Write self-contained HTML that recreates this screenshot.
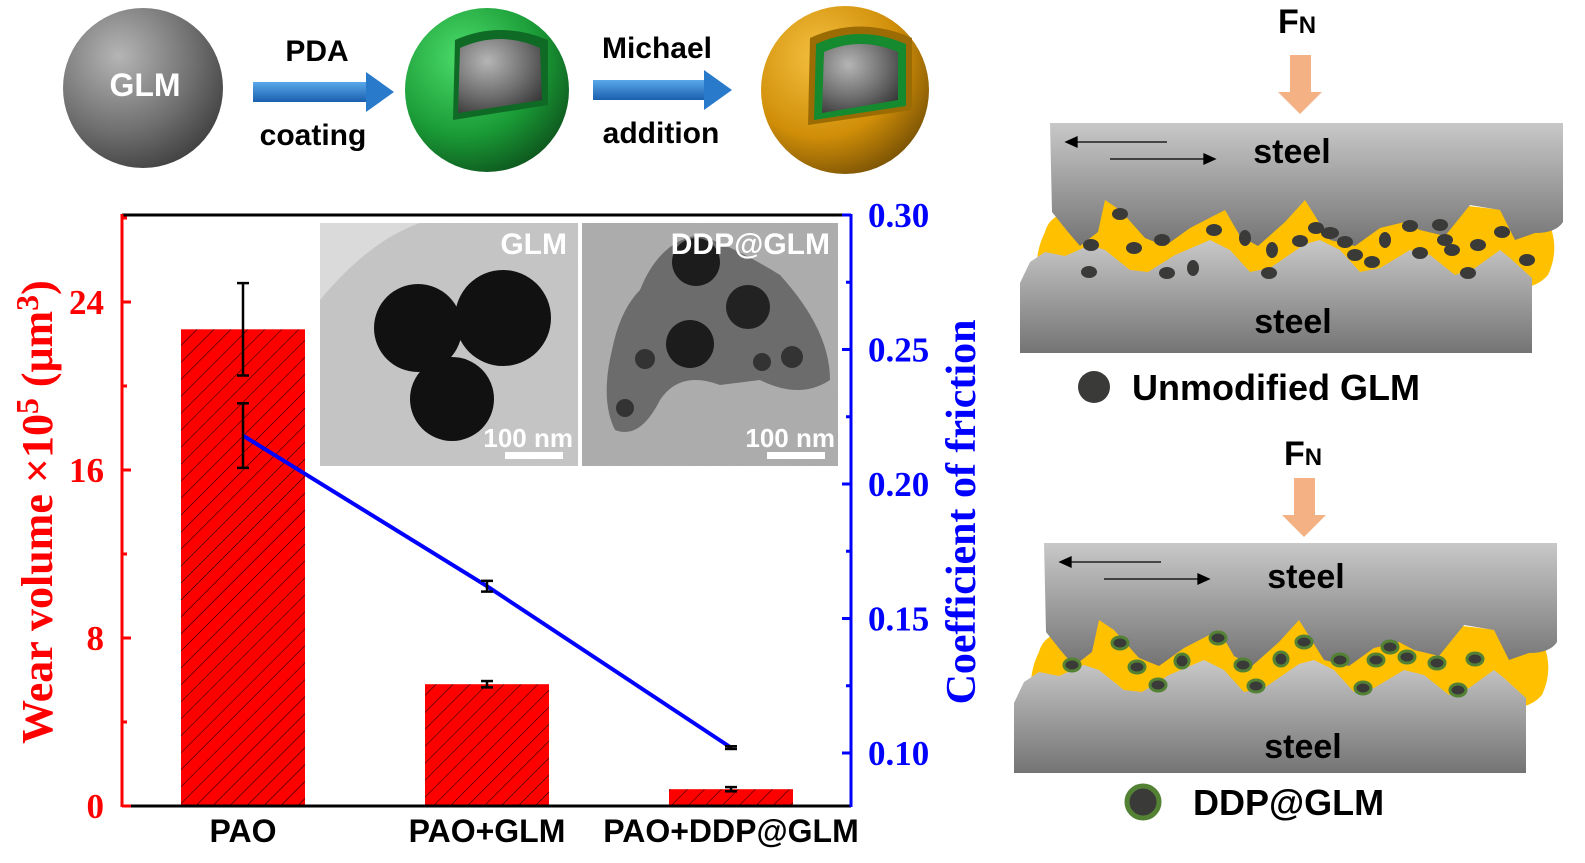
<!DOCTYPE html>
<html><head><meta charset="utf-8"><style>
html,body{margin:0;padding:0;background:#fff}
svg{display:block}
.sans{font-family:"Liberation Sans",sans-serif;font-weight:bold}
.serif{font-family:"Liberation Serif",serif;font-weight:bold}
</style></head><body>
<svg id="fig" width="1585" height="863" viewBox="0 0 1585 863" xmlns="http://www.w3.org/2000/svg">
<defs>
<radialGradient id="gGray" cx="0.35" cy="0.3" r="0.8"><stop offset="0" stop-color="#b5b5b5"/><stop offset="0.6" stop-color="#6e6e6e"/><stop offset="1" stop-color="#3a3a3a"/></radialGradient>
<radialGradient id="gGreen" cx="0.35" cy="0.3" r="0.8"><stop offset="0" stop-color="#4bdc6a"/><stop offset="0.6" stop-color="#1a9a36"/><stop offset="1" stop-color="#0c4d1a"/></radialGradient>
<radialGradient id="gGold" cx="0.35" cy="0.3" r="0.8"><stop offset="0" stop-color="#f4c040"/><stop offset="0.6" stop-color="#d08e08"/><stop offset="1" stop-color="#6e4a04"/></radialGradient>
<linearGradient id="steel" x1="0" y1="0" x2="0" y2="1"><stop offset="0" stop-color="#c8c8c8"/><stop offset="1" stop-color="#747474"/></linearGradient>
<linearGradient id="arrowBlue" x1="0" y1="0" x2="0" y2="1"><stop offset="0" stop-color="#5aa8ea"/><stop offset="1" stop-color="#1a5fae"/></linearGradient>
<pattern id="hatch" width="12" height="12" patternUnits="userSpaceOnUse" patternTransform="rotate(45)"><rect width="12" height="12" fill="#ff0000"/><line x1="0" y1="0" x2="0" y2="12" stroke="#000" stroke-width="1"/></pattern>
<filter id="noise" x="0" y="0" width="1" height="1"><feTurbulence type="fractalNoise" baseFrequency="0.9" numOctaves="2"/><feColorMatrix values="0 0 0 0 0.5 0 0 0 0 0.5 0 0 0 0 0.5 0 0 0 0.35 0"/></filter>
</defs>

<g>
<circle cx="143" cy="88" r="80" fill="url(#gGray)"/>
<text x="145" y="96" class="sans" font-size="32" fill="#fff" text-anchor="middle">GLM</text>
<g><rect x="253" y="82" width="115" height="20" fill="url(#arrowBlue)"/><polygon points="366,72 394,92 366,112" fill="#2a7acc"/></g>
<text x="317" y="61" class="sans" font-size="30" text-anchor="middle">PDA</text>
<text x="313" y="145" class="sans" font-size="30" text-anchor="middle">coating</text>
<g><circle cx="487" cy="90" r="82" fill="url(#gGreen)"/><path d="M453,120 L455,40 Q500,20 548,40 L548,105 Z" fill="#0e6a24"/><path d="M458,113 L460,48 Q500,30 540,48 L542,100 Z" fill="url(#gGray)"/></g>
<g><rect x="593" y="80" width="113" height="20" fill="url(#arrowBlue)"/><polygon points="704,70 732,90 704,110" fill="#2a7acc"/></g>
<text x="657" y="58" class="sans" font-size="30" text-anchor="middle">Michael</text>
<text x="661" y="143" class="sans" font-size="30" text-anchor="middle">addition</text>
<g><circle cx="845" cy="90" r="84" fill="url(#gGold)"/><path d="M808,125 L810,38 Q860,15 912,38 L912,110 Z" fill="#9c6c04"/><path d="M814,120 L816,44 Q860,24 906,44 L906,106 Z" fill="#158a2e"/><path d="M822,113 L824,52 Q860,36 898,52 L898,100 Z" fill="url(#gGray)"/></g>
</g>

<g id="chart">
<g>
<rect x="320" y="223" width="258" height="243" fill="#c6c6c6"/>
<rect x="320" y="223" width="258" height="243" filter="url(#noise)"/>
<path d="M320,300 Q370,240 420,223 L320,223Z" fill="#dadada"/>
<circle cx="418" cy="328" r="44" fill="#111"/><circle cx="503" cy="318" r="48" fill="#111"/><circle cx="452" cy="399" r="42" fill="#111"/>
<text x="567" y="254" class="sans" font-size="30" fill="#fff" text-anchor="end">GLM</text>
<text x="573" y="447" class="sans" font-size="26" fill="#fff" text-anchor="end">100 nm</text>
<rect x="505" y="452" width="58" height="7" fill="#fff"/>
<rect x="582" y="223" width="256" height="243" fill="#a9a9a9"/>
<rect x="582" y="223" width="256" height="243" filter="url(#noise)"/>
<path d="M640,290 Q660,240 700,235 Q740,250 780,275 Q830,330 830,380 Q800,400 760,380 L720,385 Q680,370 660,400 Q640,440 615,430 Q600,400 612,350 Q620,310 640,290Z" fill="#6c6c6c"/>
<circle cx="696" cy="262" r="24" fill="#1c1c1c"/><circle cx="748" cy="307" r="22" fill="#222"/><circle cx="690" cy="344" r="24" fill="#1c1c1c"/><circle cx="645" cy="359" r="10" fill="#333"/><circle cx="792" cy="357" r="11" fill="#333"/><circle cx="762" cy="362" r="9" fill="#333"/><circle cx="625" cy="408" r="9" fill="#333"/>
<text x="830" y="254" class="sans" font-size="30" fill="#fff" text-anchor="end">DDP@GLM</text>
<text x="835" y="447" class="sans" font-size="26" fill="#fff" text-anchor="end">100 nm</text>
<rect x="767" y="452" width="58" height="7" fill="#fff"/>
</g>
<g id="bars"></g>
<g id="line"></g>
<g id="axes"></g>
<text transform="translate(52,512) rotate(-90)" class="serif" font-size="44" fill="#ff0000" text-anchor="middle">Wear volume ×10<tspan font-size="32" dy="-14">5</tspan><tspan dy="14"> (μm</tspan><tspan font-size="32" dy="-14">3</tspan><tspan dy="14">)</tspan></text>
<text transform="translate(975,512) rotate(-90)" class="serif" font-size="42" fill="#0000ff" text-anchor="middle">Coefficient of friction</text>
</g>

<g>
<text x="1297" y="33" class="sans" font-size="34" text-anchor="middle">F<tspan font-size="24">N</tspan></text>
<path d="M1290,55 H1311 V92 H1322 L1300,114 L1278,92 H1290Z" fill="#f4b183"/>
<g id="panelShapes">
<path d="M1045,232 Q1050,212 1080,210 L1110,198 L1300,196 L1460,205 L1545,215 Q1562,245 1548,275 Q1535,290 1510,288 L1040,285 Q1032,258 1045,232Z" fill="#ffc000"/>
<path d="M1050,123 H1563 V222 Q1556,233 1535,233 L1515,240 L1500,210 L1470,205 L1445,236 L1420,230 L1405,222 L1380,228 L1355,246 L1330,240 L1305,200 L1285,222 L1258,246 L1240,236 L1225,210 L1190,228 L1165,246 L1145,238 L1120,210 L1105,200 L1098,232 L1080,246 L1068,232 L1052,212Z" fill="url(#steel)"/>
<path d="M1020,283 L1030,262 L1045,252 L1065,256 L1090,245 L1105,250 L1130,270 L1148,272 L1175,255 L1210,240 L1230,250 L1250,272 L1270,268 L1305,244 L1320,240 L1340,250 L1360,272 L1380,268 L1410,250 L1430,255 L1455,275 L1475,268 L1500,250 L1510,258 L1532,278 V353 H1020Z" fill="url(#steel)"/>
<g stroke="#000" stroke-width="1.3" fill="#000"><line x1="1075" y1="142" x2="1167" y2="142"/><polygon points="1066,142 1077,137 1077,147"/><line x1="1110" y1="159" x2="1205" y2="159"/><polygon points="1215,159 1204,154 1204,164"/></g>
</g>
<text x="1292" y="163" class="sans" font-size="34" text-anchor="middle">steel</text>
<text x="1293" y="333" class="sans" font-size="34" text-anchor="middle">steel</text>
<g fill="#3a3a38">
<ellipse cx="1091" cy="245" rx="8" ry="6"/><ellipse cx="1089" cy="272" rx="8" ry="6"/><ellipse cx="1120" cy="214" rx="8" ry="6"/><ellipse cx="1134" cy="248" rx="8" ry="6"/><ellipse cx="1162" cy="240" rx="8" ry="6"/><ellipse cx="1167" cy="273" rx="8" ry="6"/><ellipse cx="1193" cy="268" rx="6" ry="8"/><ellipse cx="1214" cy="230" rx="8" ry="6"/><ellipse cx="1245" cy="238" rx="6" ry="8"/><ellipse cx="1272" cy="250" rx="6" ry="8"/><ellipse cx="1269" cy="273" rx="8" ry="6"/><ellipse cx="1300" cy="241" rx="8" ry="6"/><ellipse cx="1316" cy="228" rx="8" ry="6"/><ellipse cx="1330" cy="233" rx="9" ry="6"/><ellipse cx="1345" cy="242" rx="8" ry="6"/><ellipse cx="1355" cy="255" rx="8" ry="6"/><ellipse cx="1372" cy="262" rx="8" ry="6"/><ellipse cx="1385" cy="240" rx="6" ry="8"/><ellipse cx="1410" cy="226" rx="8" ry="6"/><ellipse cx="1420" cy="253" rx="8" ry="6"/><ellipse cx="1440" cy="225" rx="8" ry="6"/><ellipse cx="1445" cy="240" rx="8" ry="6"/><ellipse cx="1452" cy="250" rx="8" ry="6"/><ellipse cx="1478" cy="245" rx="8" ry="6"/><ellipse cx="1468" cy="273" rx="8" ry="6"/><ellipse cx="1502" cy="232" rx="8" ry="6"/><ellipse cx="1527" cy="260" rx="8" ry="6"/>
</g>
<circle cx="1094" cy="387" r="16" fill="#3a3a38"/>
<text x="1132" y="400" class="sans" font-size="36">Unmodified  GLM</text>
</g>

<g>
<text x="1303" y="465" class="sans" font-size="34" text-anchor="middle">F<tspan font-size="24">N</tspan></text>
<path d="M1294,478 H1315 V515 H1326 L1304,537 L1282,515 H1294Z" fill="#f4b183"/>
<use href="#panelShapes" transform="translate(-6,420)"/>
<text x="1306" y="588" class="sans" font-size="34" text-anchor="middle">steel</text>
<text x="1303" y="758" class="sans" font-size="34" text-anchor="middle">steel</text>
<g fill="#3a3a38" stroke="#548235" stroke-width="3">
<ellipse cx="1072" cy="665" rx="8" ry="6"/><ellipse cx="1120" cy="643" rx="8" ry="6"/><ellipse cx="1137" cy="667" rx="8" ry="6"/><ellipse cx="1158" cy="685" rx="8" ry="6"/><ellipse cx="1182" cy="661" rx="7" ry="7"/><ellipse cx="1218" cy="638" rx="8" ry="6"/><ellipse cx="1243" cy="665" rx="8" ry="6"/><ellipse cx="1256" cy="686" rx="8" ry="6"/><ellipse cx="1281" cy="659" rx="7" ry="7"/><ellipse cx="1304" cy="642" rx="8" ry="6"/><ellipse cx="1340" cy="660" rx="8" ry="6"/><ellipse cx="1363" cy="688" rx="8" ry="6"/><ellipse cx="1376" cy="660" rx="8" ry="6"/><ellipse cx="1390" cy="647" rx="8" ry="6"/><ellipse cx="1407" cy="657" rx="8" ry="6"/><ellipse cx="1437" cy="663" rx="8" ry="6"/><ellipse cx="1458" cy="690" rx="8" ry="6"/><ellipse cx="1475" cy="659" rx="8" ry="6"/>
</g>
<circle cx="1143" cy="802" r="16" fill="#3a3a38" stroke="#548235" stroke-width="5"/>
<text x="1193" y="815" class="sans" font-size="36">DDP@GLM</text>
</g>
</svg>
<script>
const categories = ["PAO", "PAO+GLM", "PAO+DDP@GLM"];
const wearValues = [22.7, 5.8, 0.8];
const wearErrors = [2.2, 0.15, 0.1];
const cofValues = [0.218, 0.162, 0.102];
const cofErrors = [0.012, 0.002, 0.0005];
const wearTicks = [0, 8, 16, 24];
const cofTicks = [0.10, 0.15, 0.20, 0.25, 0.30];

const NS = "http://www.w3.org/2000/svg";
const X0 = 122, X1 = 851, Y0 = 806, YT = 215;
const yL = v => Y0 - v * 21.0;
const yR = v => 753 - (v - 0.10) * 2690;
const xC = i => 243 + i * 244;
const BW = 124;
function mk(tag, attrs, parent) {
  const e = document.createElementNS(NS, tag);
  for (const k in attrs) e.setAttribute(k, attrs[k]);
  parent.appendChild(e);
  return e;
}
const barsG = document.getElementById('bars');
const lineG = document.getElementById('line');
const axesG = document.getElementById('axes');
categories.forEach((c, i) => {
  const r = mk('rect', {x: xC(i) - BW / 2, y: yL(wearValues[i]), width: BW, height: Y0 - yL(wearValues[i]), fill: 'url(#hatch)'}, barsG);
  
  
  const g = mk('g', {stroke: '#000', 'stroke-width': 2.5}, barsG);
  
  
  const hi = yL(wearValues[i] + wearErrors[i]), lo = yL(wearValues[i] - wearErrors[i]);
  mk('line', {x1: xC(i), x2: xC(i), y1: hi, y2: lo}, g);
  mk('line', {x1: xC(i) - 6, x2: xC(i) + 6, y1: hi, y2: hi}, g);
  mk('line', {x1: xC(i) - 6, x2: xC(i) + 6, y1: lo, y2: lo}, g);
  const t = mk('text', {x: xC(i), y: 842, 'text-anchor': 'middle', class: 'sans', 'font-size': 32}, axesG);
  t.textContent = c;
  
  
});
const pts = cofValues.map((v, i) => xC(i) + ',' + yR(v)).join(' ');
const pl = mk('polyline', {points: pts, fill: 'none', stroke: '#0000ff', 'stroke-width': 4}, lineG);


cofValues.forEach((v, i) => {
  const g = mk('g', {stroke: '#000', 'stroke-width': 2.5}, lineG);
  
  
  const hi = yR(v + cofErrors[i]), lo = yR(v - cofErrors[i]);
  mk('line', {x1: xC(i), x2: xC(i), y1: hi, y2: lo}, g);
  mk('line', {x1: xC(i) - 6, x2: xC(i) + 6, y1: hi, y2: hi}, g);
  mk('line', {x1: xC(i) - 6, x2: xC(i) + 6, y1: lo, y2: lo}, g);
});
const topFrame = mk('line', {x1: X0, x2: X1, y1: YT, y2: YT, stroke: '#000', 'stroke-width': 3}, axesG);


const botAxis = mk('line', {x1: X0, x2: X1, y1: Y0, y2: Y0, stroke: '#000', 'stroke-width': 3}, axesG);


const leftAxis = mk('line', {x1: X0, x2: X0, y1: YT - 1, y2: Y0 + 1, stroke: '#ff0000', 'stroke-width': 3}, axesG);


const rightAxis = mk('line', {x1: X1, x2: X1, y1: YT - 1, y2: Y0 + 1, stroke: '#0000ff', 'stroke-width': 3}, axesG);


for (let v = 0; v <= 28; v += 4) {
  mk('line', {x1: X0, x2: X0 + (v % 8 === 0 ? 9 : 5), y1: yL(v), y2: yL(v), stroke: '#ff0000', 'stroke-width': 3}, axesG);
}
wearTicks.forEach(v => {
  const t = mk('text', {x: 104, y: yL(v) + 12, 'text-anchor': 'end', class: 'serif', 'font-size': 35, fill: '#ff0000'}, axesG);
  t.textContent = v;
  
  
});
for (let k = 0; k <= 9; k++) {
  const v = 0.075 + k * 0.025;
  if (yR(v) > Y0 || yR(v) < YT) continue;
  mk('line', {x1: X1, x2: X1 - (k % 2 === 1 ? 9 : 5), y1: yR(v), y2: yR(v), stroke: '#0000ff', 'stroke-width': 3}, axesG);
}
cofTicks.forEach(v => {
  const t = mk('text', {x: 868, y: yR(v) + 12, class: 'serif', 'font-size': 35, fill: '#0000ff'}, axesG);
  t.textContent = v.toFixed(2);
  
  
});
</script>
</body></html>
